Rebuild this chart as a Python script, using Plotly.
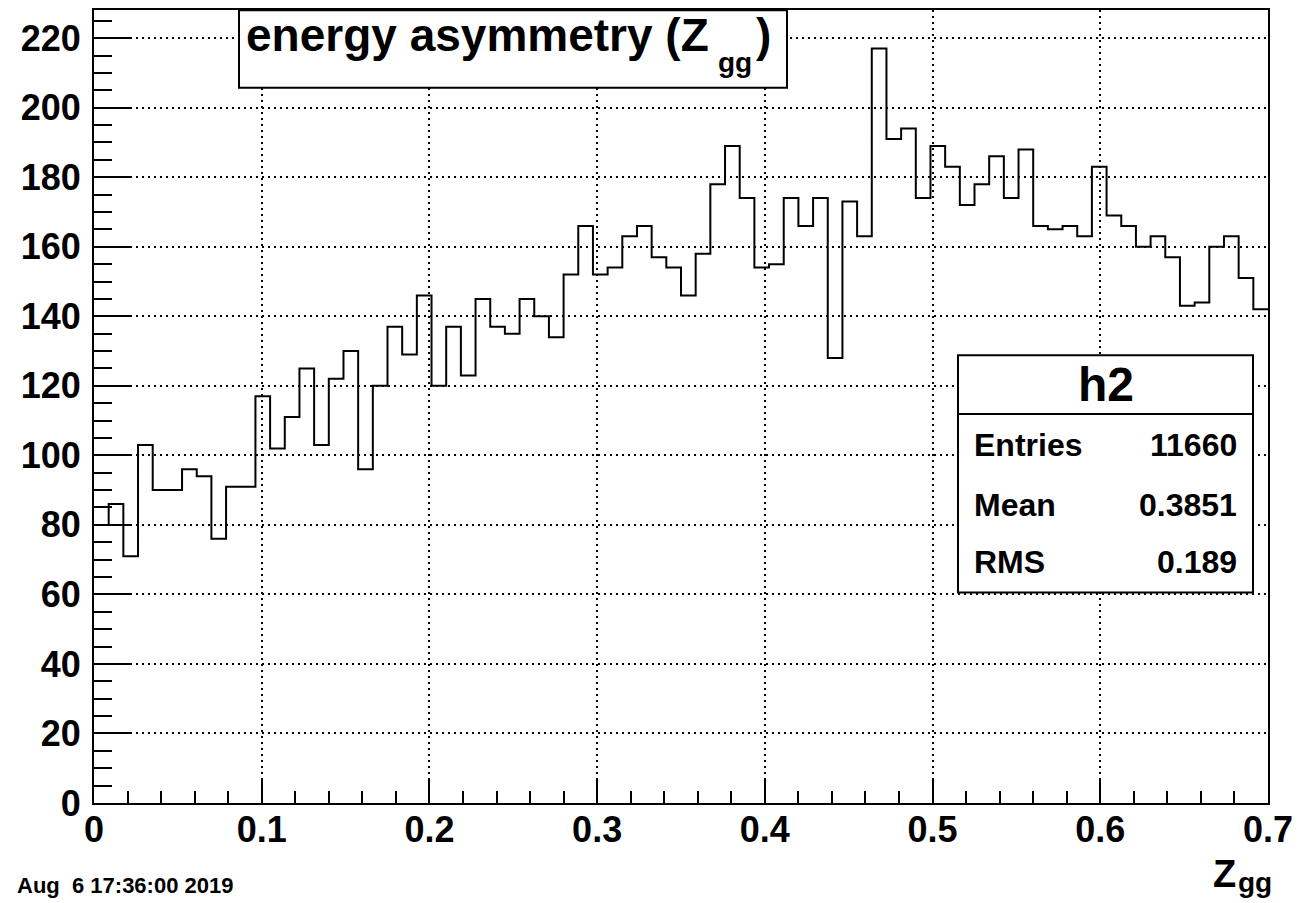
import numpy as np
import plotly.graph_objects as go

# ---- data ----
counts = [80, 86, 71, 103, 90, 90, 96, 94, 76, 91,
          91, 117, 102, 111, 125, 103, 122, 130, 96, 120,
          137, 129, 146, 120, 137, 123, 145, 137, 135, 145,
          140, 134, 152, 166, 152, 154, 163, 166, 157, 154,
          146, 158, 178, 189, 174, 154, 155, 174, 166, 174,
          128, 173, 163, 217, 191, 194, 174, 189, 183, 172,
          178, 186, 174, 188, 166, 165, 166, 163, 183, 169,
          166, 160, 163, 157, 143, 144, 160, 163, 151, 142]
x_min, x_max = 0.0, 0.7
y_max = 228.1
x_tickvals = [0, 0.1, 0.2, 0.3, 0.4, 0.5, 0.6, 0.7]
x_ticktext = ["0", "0.1", "0.2", "0.3", "0.4", "0.5", "0.6", "0.7"]
y_tickvals = [0, 20, 40, 60, 80, 100, 120, 140, 160, 180, 200, 220]
title_main = "energy asymmetry (Z"
title_sub = "gg"
title_close = ")"
x_title_main = "Z"
x_title_sub = "gg"
stats_name = "h2"
stats_labels = ["Entries", "Mean", "RMS"]
stats_values = ["11660", "0.3851", "0.189"]
date_text = "Aug\u00a0 6 17:36:00 2019"

# ---- histogram outline ----
n_bins = len(counts)
edges = np.linspace(x_min, x_max, n_bins + 1)
xs = list(edges[:-1]) + [edges[-1]]
ys = list(counts) + [counts[-1]]

W, H = 1301, 903
L, R, T, B = 94, 33, 8, 100
pw, ph = W - L - R, H - T - B


def fx(px):
    return (px - L) / pw


def fy(py):
    return (H - B - py) / ph


FONT = "Liberation Sans"

fig = go.Figure()
fig.add_trace(go.Scatter(x=xs, y=ys, mode="lines",
                         line=dict(color="black", width=2, shape="hv"),
                         hoverinfo="skip", showlegend=False))

axis_common = dict(
    showline=True, linewidth=2, linecolor="black", mirror=True,
    ticks="inside", tickwidth=2, tickcolor="black",
    showgrid=True, gridcolor="black", gridwidth=1.5, griddash="2px,4px",
    zeroline=False,
    tickfont=dict(family=FONT, size=36, color="black", weight="bold"),
)

fig.update_xaxes(range=[x_min, x_max], tickvals=x_tickvals, ticktext=x_ticktext,
                 ticklen=24, ticklabelstandoff=-6,
                 minor=dict(dtick=0.02, tick0=0, ticks="inside", ticklen=12,
                            tickwidth=2, tickcolor="black", showgrid=False),
                 **axis_common)
fig.update_yaxes(range=[0, y_max], tickvals=y_tickvals, ticklen=36,
                 ticklabelstandoff=4,
                 minor=dict(dtick=5, tick0=0, ticks="inside", ticklen=18,
                            tickwidth=2, tickcolor="black", showgrid=False),
                 **axis_common)

shapes = [
    dict(type="rect", xref="paper", yref="paper",
         x0=fx(239), x1=fx(787), y0=fy(86), y1=fy(8.3),
         line=dict(color="black", width=2), fillcolor="white", layer="above"),
    dict(type="rect", xref="paper", yref="paper",
         x0=fx(958), x1=fx(1253), y0=fy(592), y1=fy(354),
         line=dict(color="black", width=2), fillcolor="white", layer="above"),
    dict(type="line", xref="paper", yref="paper",
         x0=fx(958), x1=fx(1253), y0=fy(413), y1=fy(413),
         line=dict(color="black", width=2), layer="above"),
]


def txt(text, px, py, anchor, size):
    return dict(text=text, x=fx(px), y=fy(py), xanchor=anchor, yanchor="middle",
                xref="paper", yref="paper", showarrow=False, borderpad=0,
                font=dict(family=FONT, size=size, color="black", weight="bold"))


ann = []
ann.append(txt(title_main, 245, 33, "left", 46))
ann.append(txt(title_sub, 717, 61, "left", 28))
ann.append(txt(title_close, 755, 33, "left", 46))
ann.append(txt(stats_name, 1105.5, 383, "center", 48))
row_y = [444, 504, 561]
for lab, val, yy in zip(stats_labels, stats_values, row_y):
    ann.append(txt(lab, 973, yy, "left", 32))
    ann.append(txt(val, 1238, yy, "right", 32))
ann.append(txt(x_title_main, 1212, 874.5, "left", 38))
ann.append(txt(x_title_sub, 1237, 883, "left", 28))
ann.append(txt(date_text, 234, 886, "right", 22))

fig.update_layout(width=W, height=H, margin=dict(l=L, r=R, t=T, b=B),
                  paper_bgcolor="white", plot_bgcolor="white",
                  shapes=shapes, annotations=ann, showlegend=False)

fig.write_html("out.html", config={"displayModeBar": False},
               post_script="document.body.style.margin='0';document.body.style.overflow='hidden';")
